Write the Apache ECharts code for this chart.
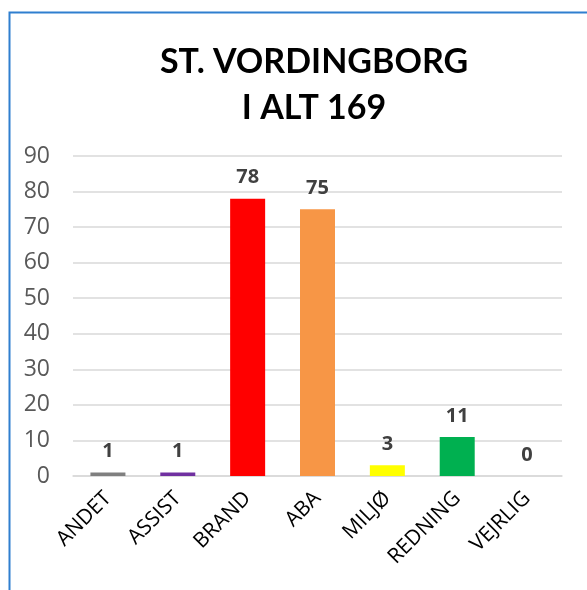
<!DOCTYPE html>
<html>
<head>
<meta charset="utf-8">
<script src="https://cdn.jsdelivr.net/npm/echarts@6/dist/echarts.min.js"></script>
<style>
  html, body { margin: 0; padding: 0; background: #fff; }
  #chart { width: 587px; height: 590px; }
</style>
</head>
<body>
<div id="chart"></div>
<script>
// kategorier og antal
const categories = ['ANDET', 'ASSIST', 'BRAND', 'ABA', 'MILJØ', 'REDNING', 'VEJRLIG'];
const counts = [1, 1, 78, 75, 3, 11, 0];
const barColors = ['#7f7f7f', '#7030a0', '#ff0000', '#f79646', '#ffff00', '#00b050', '#4472c4'];
const yTicks = [0, 10, 20, 30, 40, 50, 60, 70, 80, 90];

const chart = echarts.init(document.getElementById('chart'));

const option = {
  backgroundColor: '#fff',
  animation: false,
  title: {
    text: 'ST. VORDINGBORG\nI ALT 169',
    left: 309,
    textAlign: 'center',
    top: 34,
    textStyle: {
      fontFamily: 'Lato',
      fontWeight: 'bold',
      fontSize: 34,
      lineHeight: 46,
      color: '#000'
    }
  },
  graphic: [{
    type: 'rect',
    shape: { x: 9.5, y: 12.5, width: 600, height: 600 },
    style: { fill: 'none', stroke: '#2f7fcf', lineWidth: 2 },
    silent: true
  }],
  grid: {
    left: 73,
    right: 25,
    top: 156,
    bottom: 114
  },
  xAxis: {
    type: 'category',
    data: categories,
    axisLine: { lineStyle: { color: '#d9d9d9', width: 1.5 } },
    axisTick: { show: false },
    axisLabel: {
      rotate: 45,
      interval: 0,
      margin: 19,
      fontFamily: 'Open Sans',
      fontSize: 21,
      color: '#000'
    }
  },
  yAxis: {
    type: 'value',
    min: yTicks[0],
    max: yTicks[yTicks.length - 1],
    interval: 10,
    axisLine: { show: false },
    axisTick: { show: false },
    splitLine: { lineStyle: { color: '#d9d9d9', width: 1.5 } },
    axisLabel: {
      margin: 23,
      fontFamily: 'Open Sans',
      fontSize: 23,
      color: '#595959'
    }
  },
  series: [{
    type: 'bar',
    data: counts.map((v, i) => ({ value: v, itemStyle: { color: barColors[i] } })),
    barWidth: 35,
    label: {
      show: true,
      position: 'top',
      distance: 11,
      fontFamily: 'Open Sans',
      fontWeight: 'bold',
      fontSize: 20,
      color: '#404040'
    }
  }]
};

chart.setOption(option);
</script>
</body>
</html>
